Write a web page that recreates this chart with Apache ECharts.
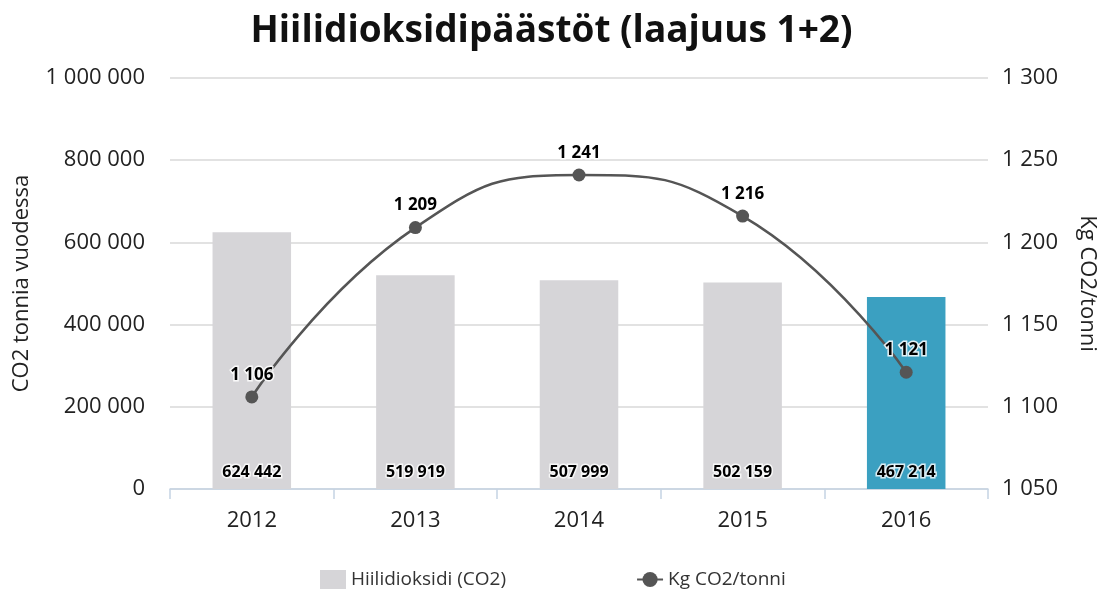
<!DOCTYPE html>
<html><head><meta charset="utf-8">
<script src="https://cdn.jsdelivr.net/npm/echarts@6/dist/echarts.min.js"></script>
<style>html,body{margin:0;padding:0;background:#fff}#c{width:1103px;height:596px}</style>
</head><body><div id="c"></div>
<script>
const categories = ['2012','2013','2014','2015','2016'];
const co2Tonnes = [624442, 519919, 507999, 502159, 467214];
const kgPerTonne = [1106, 1209, 1241, 1216, 1121];
const leftTicks = [0, 1000000, 200000];
const rightTicks = [1050, 1300, 50];

const fmt = v => String(Math.round(v)).replace(/\B(?=(\d{3})+(?!\d))/g, ' ');
const FONT = '"Open Sans", "Noto Sans", sans-serif';

const chart = echarts.init(document.getElementById('c'));
chart.setOption({
  animation: false,
  textStyle: { fontFamily: FONT },
  title: {
    text: 'Hiilidioksidipäästöt (laajuus 1+2)',
    left: 'center', top: 8,
    textStyle: { fontSize: 37, fontWeight: 'bold', color: '#111', fontFamily: FONT }
  },
  grid: { left: 170, right: 115, top: 78, bottom: 107, outerBoundsMode: 'none', containLabel: false },
  legend: {
    bottom: 2, left: 315, itemGap: 130, itemWidth: 26, itemHeight: 19,
    textStyle: { fontSize: 19, color: '#333', fontFamily: FONT },
    data: [
      { name: 'Hiilidioksidi (CO2)', icon: 'rect', itemStyle: { color: '#d6d5d8' } },
      { name: 'Kg CO2/tonni' }
    ]
  },
  xAxis: {
    type: 'category', data: categories,
    axisLine: { lineStyle: { color: '#c5d3e4', width: 1.5 } },
    axisTick: { show: true, alignWithLabel: false, length: 10, lineStyle: { color: '#c5d3e4', width: 1.5 } },
    axisLabel: { fontSize: 22, color: '#222', margin: 21 }
  },
  yAxis: [
    {
      type: 'value', min: leftTicks[0], max: leftTicks[1], interval: leftTicks[2],
      name: 'CO2 tonnia vuodessa', nameLocation: 'middle', nameGap: 137, nameRotate: 90,
      nameTextStyle: { fontSize: 22, color: '#222' },
      axisLabel: { fontSize: 22, color: '#222', margin: 25, formatter: fmt },
      axisLine: { show: false }, axisTick: { show: false },
      splitLine: { lineStyle: { color: '#d9d9d9', width: 1.5 } }
    },
    {
      type: 'value', min: rightTicks[0], max: rightTicks[1], interval: rightTicks[2],
      name: 'Kg CO2/tonni', nameLocation: 'middle', nameGap: 88, nameRotate: -90,
      nameTextStyle: { fontSize: 22, color: '#222' },
      axisLabel: { fontSize: 22, color: '#222', margin: 14, formatter: fmt },
      axisLine: { show: false }, axisTick: { show: false },
      splitLine: { show: false }
    }
  ],
  series: [
    {
      name: 'Hiilidioksidi (CO2)', type: 'bar', yAxisIndex: 0, barWidth: '48%',
      data: co2Tonnes.map((v, i) => ({
        value: v,
        itemStyle: { color: i === co2Tonnes.length - 1 ? '#3ba0c1' : '#d6d5d8' }
      })),
      label: {
        show: true, position: 'insideBottom', distance: 9,
        fontSize: 16, fontWeight: 'bold', color: '#000',
        textBorderColor: 'rgba(255,255,255,0.8)', textBorderWidth: 3,
        formatter: p => fmt(p.value)
      }
    },
    {
      name: 'Kg CO2/tonni', type: 'line', yAxisIndex: 1, smooth: 0.5,
      data: kgPerTonne,
      symbol: 'circle', symbolSize: 13,
      lineStyle: { color: '#555555', width: 2.5 },
      itemStyle: { color: '#555555' },
      label: {
        show: true, position: 'top', distance: 7,
        fontSize: 17, fontWeight: 'bold', color: '#000',
        textBorderColor: 'rgba(255,255,255,0.85)', textBorderWidth: 3,
        formatter: p => fmt(p.value)
      },
      z: 5
    }
  ]
});
</script></body></html>
